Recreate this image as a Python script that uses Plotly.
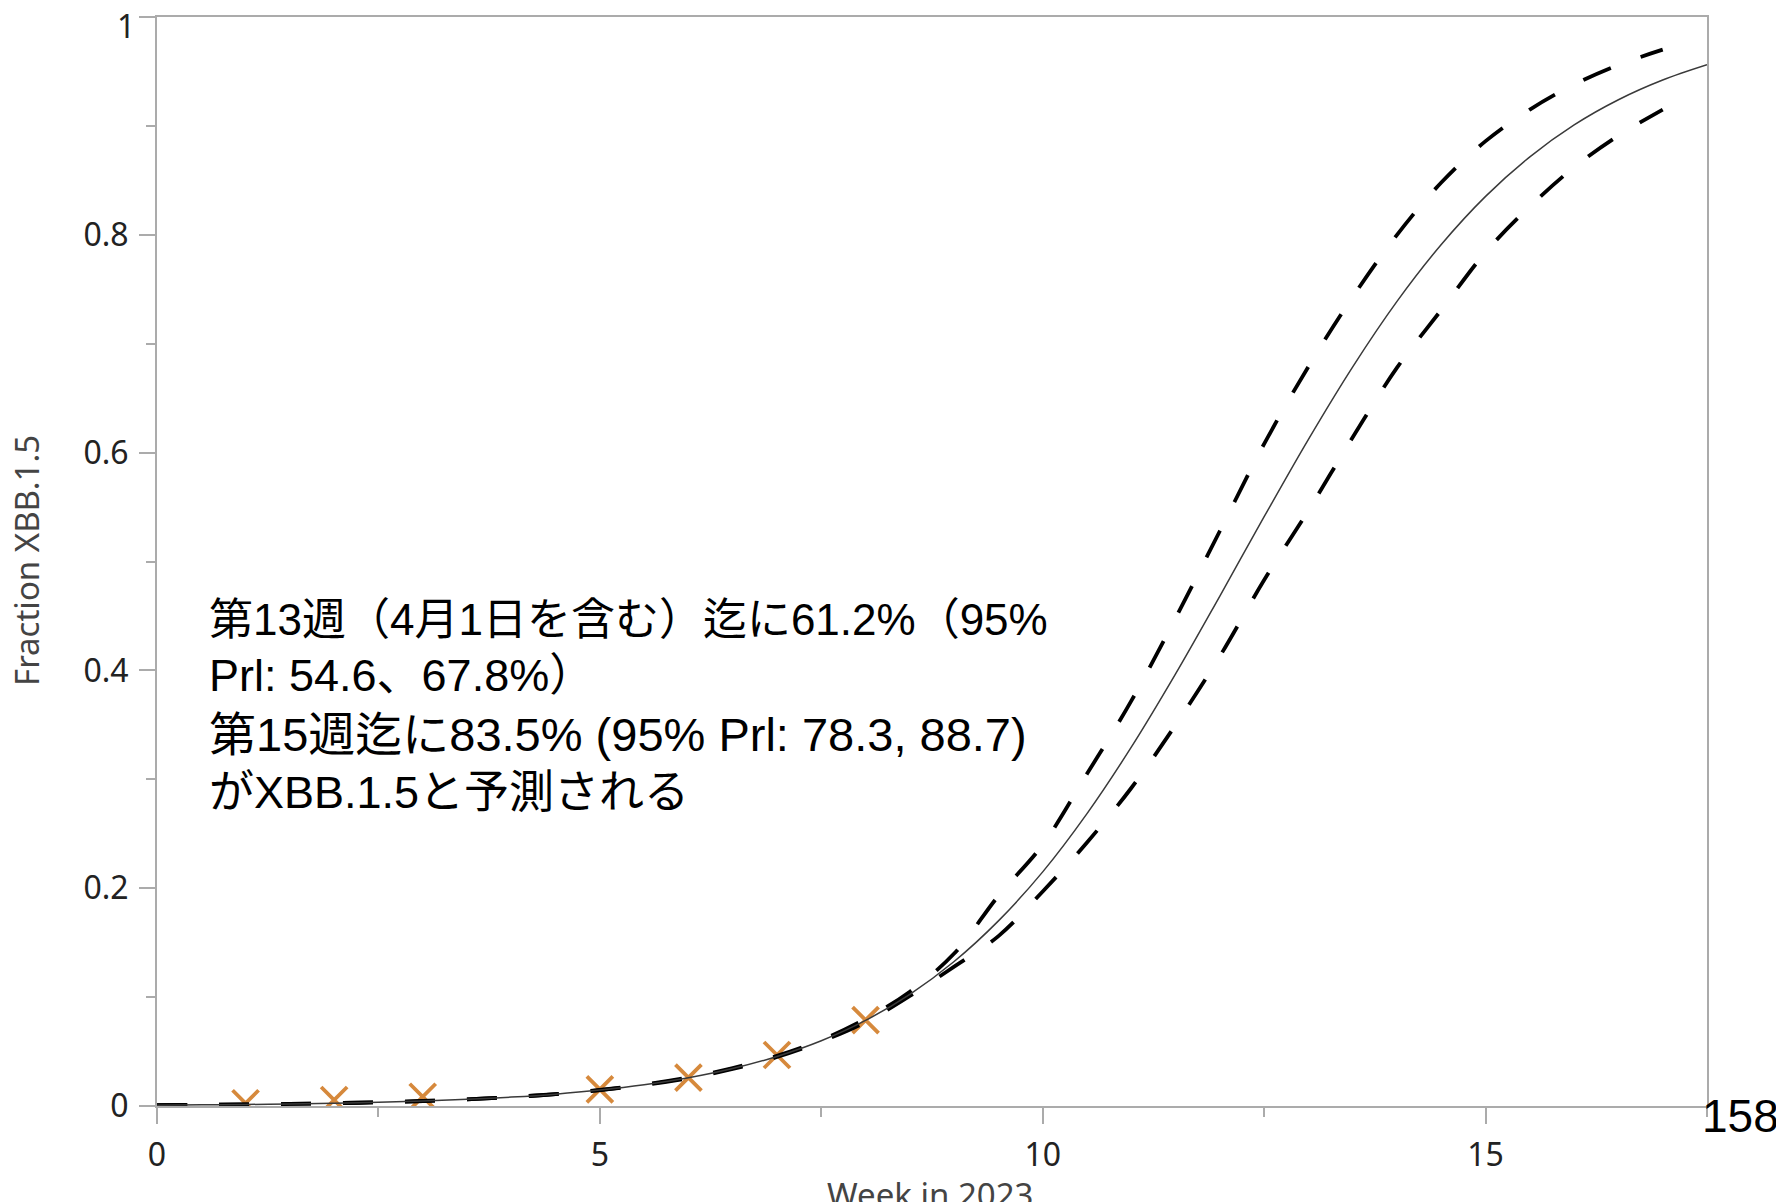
import plotly.graph_objects as go

weeks_obs = [1, 2, 3, 5, 6, 7, 8]
frac_obs = [0.0025, 0.0055, 0.0085, 0.0153, 0.026, 0.0468, 0.0789]

# Fitted curve
weeks_fit = [0, 0.5, 1, 1.5, 2, 2.5, 3, 3.5, 4, 4.5, 5, 5.5, 6, 6.5, 7, 7.5, 8, 8.5,
             9, 9.5, 10, 10.5, 11, 11.5, 12, 12.5, 13, 13.5, 14, 14.5, 15, 15.5, 16,
             16.5, 17, 17.5]
frac_fit = [0.0008, 0.0011, 0.0014, 0.0019, 0.0026, 0.0034, 0.0046, 0.0061, 0.0082,
            0.0109, 0.0146, 0.0195, 0.0259, 0.0344, 0.0455, 0.0599, 0.0786, 0.1026,
            0.1327, 0.170, 0.215, 0.2685, 0.3295, 0.3968, 0.4683, 0.5411, 0.6122,
            0.6788, 0.7389, 0.7911, 0.8353, 0.8716, 0.9009, 0.924, 0.9421, 0.9561]

# Prediction interval bounds
weeks_pi = [0, 0.5, 1, 1.5, 2, 2.5, 3, 3.5, 4, 4.5, 5, 5.5, 6, 6.5, 7, 7.5, 8, 8.5,
            9, 9.5, 10, 10.5, 11, 11.5, 12, 12.5, 13, 13.5, 14, 14.5, 15, 15.5, 16,
            16.5, 17]
frac_upper = [0.0008, 0.0011, 0.0014, 0.0019, 0.0026, 0.0034, 0.0046, 0.0061, 0.0082,
              0.0109, 0.0147, 0.0197, 0.0262, 0.0348, 0.0460, 0.0606, 0.080, 0.105,
              0.140, 0.193, 0.240, 0.305, 0.372, 0.448, 0.528, 0.608, 0.679, 0.743,
              0.800, 0.848, 0.886, 0.915, 0.938, 0.956, 0.970]
frac_lower = [0.0008, 0.0011, 0.0014, 0.0019, 0.0026, 0.0034, 0.0046, 0.0061, 0.0082,
              0.0109, 0.0145, 0.0193, 0.0256, 0.0340, 0.0450, 0.0592, 0.077, 0.101,
              0.128, 0.156, 0.197, 0.242, 0.292, 0.350, 0.413, 0.483, 0.547, 0.614,
              0.678, 0.731, 0.784, 0.826, 0.862, 0.891, 0.915]

x_ticks = [0, 5, 10, 15]
y_ticks = [0, 0.2, 0.4, 0.6, 0.8, 1]
y_tick_text = ["0", "0.2", "0.4", "0.6", "0.8", ""]

note_lines = [
    "第13週（4月1日を含む）迄に61.2%（95%",
    "Prl: 54.6、67.8%）",
    "第15週迄に83.5% (95% Prl: 78.3, 88.7)",
    "がXBB.1.5と予測される",
]

W, H = 1776, 1202
L, R, T, B = 157, 69, 17, 96
PW, PH = W - L - R, H - T - B


def px_x(X):
    return (X - L) / PW


def px_y(Y):
    return (H - B - Y) / PH


fig = go.Figure()
fig.add_trace(go.Scatter(
    x=weeks_obs, y=frac_obs, mode="markers",
    marker=dict(symbol="x-thin", size=26, line=dict(color="#D6893C", width=3.8)),
    showlegend=False))
fig.add_trace(go.Scatter(
    x=weeks_pi, y=frac_upper, mode="lines", line_shape="spline",
    line=dict(color="black", width=3.8, dash="30px,32px"), showlegend=False))
fig.add_trace(go.Scatter(
    x=weeks_pi, y=frac_lower, mode="lines", line_shape="spline",
    line=dict(color="black", width=3.8, dash="30px,32px"), showlegend=False))
fig.add_trace(go.Scatter(
    x=weeks_fit, y=frac_fit, mode="lines", line_shape="spline",
    line=dict(color="#3a3a3a", width=1.5), showlegend=False))

tick_font = dict(family="Noto Sans, DejaVu Sans", size=32, color="#222222")
axis_common = dict(
    showline=True, linecolor="#ababab", linewidth=2, mirror=True,
    showgrid=False, zeroline=False, ticks="outside", ticklen=16, tickwidth=2,
    tickcolor="#ababab", tickfont=tick_font, ticklabelstandoff=4,
)

fig.update_xaxes(range=[0, 17.5], tickvals=x_ticks,
                 minor=dict(dtick=2.5, ticks="outside", ticklen=9, tickwidth=2,
                            tickcolor="#ababab", showgrid=False),
                 **axis_common)
fig.update_yaxes(range=[0, 1], tickvals=y_ticks, ticktext=y_tick_text,
                 minor=dict(dtick=0.1, ticks="outside", ticklen=9, tickwidth=2,
                            tickcolor="#ababab", showgrid=False),
                 **axis_common)

annotations = []
centers = [620, 675, 734, 792]
sizes = [44, 45, 47, 45]
for line, cy, sz in zip(note_lines, centers, sizes):
    annotations.append(dict(
        text=line, xref="paper", yref="paper", x=px_x(207), y=px_y(cy),
        xanchor="left", yanchor="middle", showarrow=False,
        font=dict(family="Liberation Sans, Arial, Noto Sans CJK JP", size=sz, color="black")))

# top y tick label (drawn slightly lower, as in the original)
annotations.append(dict(
    text="1", xref="paper", yref="paper", x=px_x(137), y=px_y(26),
    xanchor="right", yanchor="middle", showarrow=False, font=tick_font))
annotations.append(dict(
    text="Fraction XBB.1.5", xref="paper", yref="paper", x=px_x(26), y=px_y(561),
    xanchor="center", yanchor="middle", textangle=-90, showarrow=False,
    font=dict(family="Noto Sans, DejaVu Sans", size=33, color="#444444")))
annotations.append(dict(
    text="Week in 2023", xref="paper", yref="paper", x=px_x(930), y=px_y(1194),
    xanchor="center", yanchor="middle", showarrow=False,
    font=dict(family="Noto Sans, DejaVu Sans", size=33, color="#444444")))
annotations.append(dict(
    text="158", xref="paper", yref="paper", x=px_x(1700), y=px_y(1116),
    xanchor="left", yanchor="middle", showarrow=False,
    font=dict(family="Liberation Sans, Arial", size=46, color="black")))

fig.update_layout(
    width=W, height=H, autosize=False,
    margin=dict(l=L, r=R, t=T, b=B, pad=0),
    paper_bgcolor="white", plot_bgcolor="white",
    annotations=annotations,
)

fig.write_html("out.html", config={"displayModeBar": False},
               post_script="document.body.style.margin='0';document.body.style.overflow='hidden';")
